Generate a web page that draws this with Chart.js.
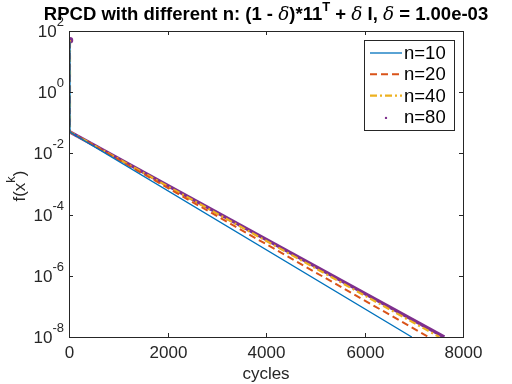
<!DOCTYPE html>
<html>
<head>
<meta charset="utf-8">
<script src="https://cdn.jsdelivr.net/npm/chart.js@4.4.0/dist/chart.umd.min.js"></script>
<style>
  html, body { margin: 0; padding: 0; background: #fff; }
  #wrap { width: 512px; height: 384px; }
</style>
</head>
<body>
<div id="wrap"><canvas id="chart" width="512" height="384"></canvas></div>
<script>
// values
const seriesNames = ["n=10", "n=20", "n=40", "n=80"];
const cycles10 = [20, 20, 6960];
const cycles20 = [20, 20, 7300];
const cycles40 = [20, 20, 7520];
const cycles80 = [20, 20, 7620];
const f10 = [45, 0.05, 1e-8];
const f20 = [45, 0.05, 1e-8];
const f40 = [50, 0.05, 1e-8];
const f80 = [50, 0.05, 1e-8];
const xTicks = [0, 2000, 4000, 6000, 8000];
const yTickExps = [2, 0, -2, -4, -6, -8];

const colors = ["#0072BD", "#D95319", "#EDB120", "#7E2F8E"];
const dashes = [[], [7, 4], [7, 3, 2, 3], []];
const widths = [1.3, 2, 2.2, 3.5];

function toPoints(xs, ys) {
  return xs.map((x, i) => ({ x: x, y: ys[i] }));
}

const FONT = '"Liberation Sans", Arial, Helvetica, sans-serif';

// draws the matlab-ish box, ticks, labels, title and legend
const matlabFrame = {
  id: "matlabFrame",
  afterDatasetsDraw(chart) {
    const ctx = chart.ctx;
    const area = chart.chartArea;
    const xs = chart.scales.x;
    const ys = chart.scales.y;
    ctx.save();
    ctx.strokeStyle = "#262626";
    ctx.lineWidth = 1;
    ctx.fillStyle = "#262626";

    // box
    ctx.strokeRect(Math.round(area.left) + 0.5, Math.round(area.top) + 0.5,
      Math.round(area.right - area.left), Math.round(area.bottom - area.top));

    // x ticks
    ctx.font = "17px " + FONT;
    ctx.textAlign = "center";
    ctx.textBaseline = "middle";
    xTicks.forEach(v => {
      const px = Math.round(xs.getPixelForValue(v)) + 0.5;
      ctx.beginPath();
      ctx.moveTo(px, area.bottom); ctx.lineTo(px, area.bottom - 4);
      ctx.moveTo(px, area.top); ctx.lineTo(px, area.top + 4);
      ctx.stroke();
      ctx.fillText(String(v), px, area.bottom + 16);
    });

    // y ticks with superscript exponents
    yTickExps.forEach(e => {
      const py = Math.round(ys.getPixelForValue(Math.pow(10, e))) + 0.5;
      ctx.beginPath();
      ctx.moveTo(area.left, py); ctx.lineTo(area.left + 4, py);
      ctx.moveTo(area.right, py); ctx.lineTo(area.right - 4, py);
      ctx.stroke();
      const expText = String(e);
      ctx.font = "13px " + FONT;
      const ew = ctx.measureText(expText).width;
      ctx.textAlign = "right";
      ctx.fillText(expText, area.left - 5, py - 9);
      ctx.font = "17px " + FONT;
      ctx.fillText("10", area.left - 5 - ew, py + 1);
    });

    // x label
    ctx.textAlign = "center";
    ctx.font = "17px " + FONT;
    ctx.fillText("cycles", (area.left + area.right) / 2, area.bottom + 37);

    // y label f(x^k)
    ctx.save();
    ctx.translate(20, (area.top + area.bottom) / 2 + 2);
    ctx.rotate(-Math.PI / 2);
    ctx.textAlign = "left";
    ctx.font = "17px " + FONT;
    const p1 = "f(x";
    const w1 = ctx.measureText(p1).width;
    ctx.font = "13px " + FONT;
    const wk = ctx.measureText("k").width;
    ctx.font = "17px " + FONT;
    const wp = ctx.measureText(")").width;
    let sx = -(w1 + wk + wp) / 2;
    ctx.fillText(p1, sx, 0);
    ctx.font = "13px " + FONT;
    ctx.fillText("k", sx + w1, -9);
    ctx.font = "17px " + FONT;
    ctx.fillText(")", sx + w1 + wk, 0);
    ctx.restore();

    // title with italic delta and superscript T
    const ts = 18.5;
    const parts = [
      { t: "RPCD with different n: (1 - ", f: "bold " + ts + "px " + FONT, dy: 0 },
      { t: "\u03B4", f: "italic " + ts + "px \"DejaVu Serif\", serif", dy: 0 },
      { t: ")*11", f: "bold " + ts + "px " + FONT, dy: 0 },
      { t: "T", f: "bold 13px " + FONT, dy: -8 },
      { t: " + ", f: "bold " + ts + "px " + FONT, dy: 0 },
      { t: "\u03B4", f: "italic " + ts + "px \"DejaVu Serif\", serif", dy: 0 },
      { t: " I, ", f: "bold " + ts + "px " + FONT, dy: 0 },
      { t: "\u03B4", f: "italic " + ts + "px \"DejaVu Serif\", serif", dy: 0 },
      { t: " = 1.00e-03", f: "bold " + ts + "px " + FONT, dy: 0 }
    ];
    let total = 0;
    parts.forEach(p => { ctx.font = p.f; p.w = ctx.measureText(p.t).width; total += p.w; });
    let tx = 266 - total / 2;
    ctx.textAlign = "left";
    ctx.fillStyle = "#000";
    parts.forEach(p => {
      ctx.font = p.f;
      ctx.fillText(p.t, tx, 15 + p.dy);
      tx += p.w;
    });

    // legend box
    const lx = 364, ly = 40, lw = 90, lh = 90;
    ctx.fillStyle = "#fff";
    ctx.fillRect(lx, ly, lw, lh);
    ctx.strokeStyle = "#262626";
    ctx.lineWidth = 1;
    ctx.strokeRect(lx + 0.5, ly + 0.5, lw, lh);
    ctx.font = "18.5px " + FONT;
    ctx.fillStyle = "#000";
    seriesNames.forEach((name, i) => {
      const cy = ly + 13 + i * 21.3;
      ctx.save();
      ctx.strokeStyle = colors[i];
      if (i < 3) {
        ctx.lineWidth = widths[i];
        ctx.setLineDash(dashes[i]);
        ctx.beginPath();
        ctx.moveTo(lx + 6, cy); ctx.lineTo(lx + 38, cy);
        ctx.stroke();
      } else {
        ctx.fillStyle = colors[i];
        ctx.beginPath();
        ctx.arc(lx + 22, cy + 1, 1.2, 0, Math.PI * 2);
        ctx.fill();
      }
      ctx.restore();
      ctx.textAlign = "left";
      ctx.fillText(name, lx + 40, cy + 1);
    });
    ctx.restore();
  }
};

const allX = [cycles10, cycles20, cycles40, cycles80];
const allY = [f10, f20, f40, f80];

const datasets = seriesNames.map((name, i) => ({
  label: name,
  data: toPoints(allX[i], allY[i]),
  borderColor: colors[i],
  backgroundColor: colors[i],
  borderWidth: widths[i],
  borderDash: dashes[i],
  // n=80 is drawn with dot markers: no dots along the jump at cycle 0
  pointRadius: i === 3 ? [1.5, 0, 0] : 0,
  segment: i === 3 ? { borderColor: c => c.p0DataIndex === 0 ? "rgba(0,0,0,0)" : colors[3] } : {},
  tension: 0,
  fill: false
}));

new Chart(document.getElementById("chart").getContext("2d"), {
  type: "line",
  data: { datasets: datasets },
  plugins: [matlabFrame],
  options: {
    responsive: false,
    animation: false,
    events: [],
    layout: { padding: { left: 69, right: 49, top: 31, bottom: 47 } },
    plugins: { legend: { display: false }, title: { display: false }, tooltip: { enabled: false } },
    scales: {
      x: { type: "linear", min: 0, max: 8000, display: false },
      y: { type: "logarithmic", min: 1e-8, max: 1e2, display: false }
    }
  }
});
</script>
</body>
</html>
